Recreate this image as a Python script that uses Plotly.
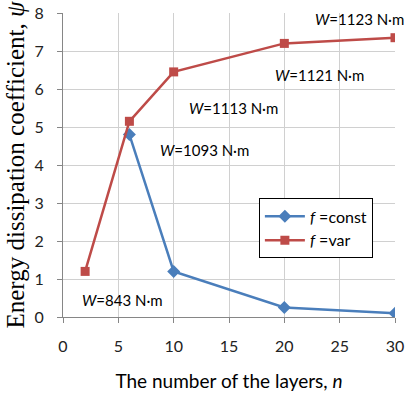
import plotly.graph_objects as go

n_const = [6, 10, 20, 30]
psi_const = [4.8, 1.2, 0.25, 0.1]
n_var = [2, 6, 10, 20, 30]
psi_var = [1.2, 5.15, 6.45, 7.2, 7.35]

ann_text = ["<i>W</i>=1123 N·m", "<i>W</i>=1121 N·m", "<i>W</i>=1113 N·m",
            "<i>W</i>=1093 N·m", "<i>W</i>=843 N·m"]
ann_x = [26.8, 23.2, 15.45, 12.8, 5.4]
ann_y = [7.84, 6.37, 5.5, 4.39, 0.45]

font_sans = "Lato, Liberation Sans, sans-serif"

fig = go.Figure()
fig.add_trace(go.Scatter(x=n_const, y=psi_const, mode="lines+markers",
                         name="<i>f</i> =const",
                         line=dict(color="#4a7ebb", width=2.5),
                         marker=dict(symbol="diamond", size=10, color="#4a7ebb")))
fig.add_trace(go.Scatter(x=n_var, y=psi_var, mode="lines+markers",
                         name="<i>f</i> =var",
                         line=dict(color="#be4b48", width=2.5),
                         marker=dict(symbol="square", size=9, color="#be4b48")))

for t, x, y in zip(ann_text, ann_x, ann_y):
    fig.add_annotation(x=x, y=y, text=t, showarrow=False,
                       font=dict(family=font_sans, size=15, color="#000"))

fig.update_layout(
    width=409, height=393,
    margin=dict(l=63, r=14, t=13, b=76),
    paper_bgcolor="white", plot_bgcolor="white",
    font=dict(family=font_sans, color="#000"),
    showlegend=True,
    legend=dict(x=0.59, y=0.39, xanchor="left", yanchor="top",
                bgcolor="white", bordercolor="#000", borderwidth=1,
                font=dict(family=font_sans, size=16), tracegroupgap=6,
                itemwidth=40),
    xaxis=dict(range=[0, 30], tickvals=[0, 5, 10, 15, 20, 25, 30],
               automargin=False,
               showgrid=True, gridcolor="#d0d0d0", gridwidth=1,
               showline=True, linecolor="#868686", linewidth=1,
               ticks="outside", ticklen=5, tickcolor="#868686",
               ticklabelstandoff=10,
               tickfont=dict(size=16, color="#222"), zeroline=False,
               title=dict(text="The number of the layers, <i>n</i>",
                          font=dict(size=19, family=font_sans), standoff=20)),
    yaxis=dict(range=[0, 8], tickvals=list(range(0, 9)),
               automargin=False,
               showgrid=True, gridcolor="#d0d0d0", gridwidth=1,
               showline=True, linecolor="#868686", linewidth=1,
               ticks="outside", ticklen=5, tickcolor="#868686",
               ticklabelstandoff=10,
               tickfont=dict(size=16, color="#222"), zeroline=False,
               title=dict(text="Energy dissipation coefficient, <i>ψ</i>",
                          font=dict(size=25, family="Liberation Serif, serif"),
                          standoff=2)),
)
fig.write_html("out.html", config={"displayModeBar": False},
               post_script="document.body.style.margin='0px';")
